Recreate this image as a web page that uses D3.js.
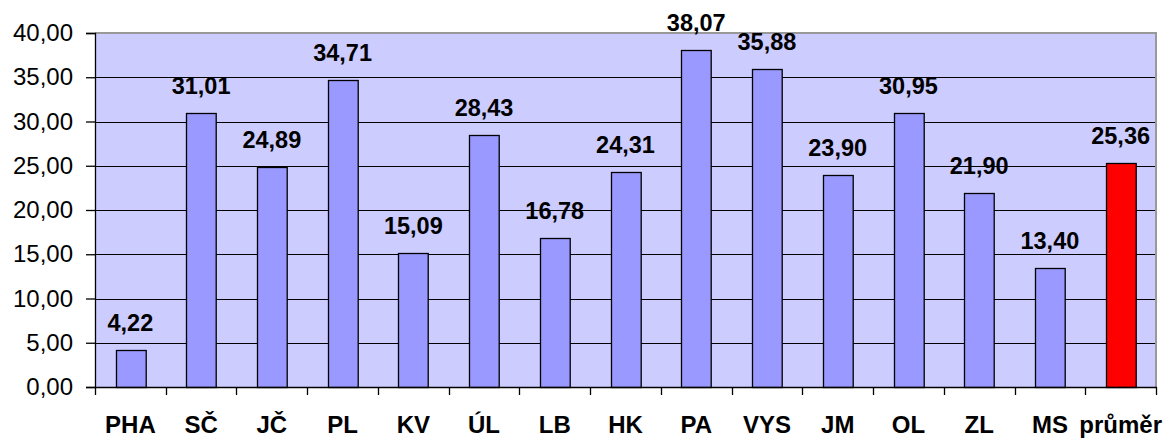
<!DOCTYPE html>
<html>
<head>
<meta charset="utf-8">
<script src="https://cdn.jsdelivr.net/npm/d3@7"></script>
<style>
  body { margin: 0; background: #fff; }
  svg { display: block; font-family: Arial, "Liberation Sans", sans-serif; }
</style>
</head>
<body>
<div id="chart"></div>
<script>
// Datos
const categories = ['PHA', 'SČ', 'JČ', 'PL', 'KV', 'ÚL', 'LB', 'HK', 'PA', 'VYS', 'JM', 'OL', 'ZL', 'MS', 'průměr'];
const values = [4.22, 31.01, 24.89, 34.71, 15.09, 28.43, 16.78, 24.31, 38.07, 35.88, 23.9, 30.95, 21.9, 13.4, 25.36];
const yTicks = [0, 5, 10, 15, 20, 25, 30, 35, 40];

const W = 1172, H = 441;
const margin = { top: 33, right: 16, bottom: 54, left: 95 };
const width = W - margin.left - margin.right;
const height = H - margin.top - margin.bottom;

const fmt = (v) => v.toFixed(2).replace('.', ',');

const svg = d3.select('#chart').append('svg')
  .attr('width', W).attr('height', H);

const g = svg.append('g')
  .attr('transform', `translate(${margin.left},${margin.top})`);

const x = d3.scaleBand().domain(categories).range([0, width]).paddingInner(0.58).paddingOuter(0.29);
const xOuter = d3.scaleBand().domain(categories).range([0, width]);
const y = d3.scaleLinear().domain([0, 40]).range([height, 0]);

// Fondo del área de la gráfica
g.append('rect')
  .attr('x', 0).attr('y', 0)
  .attr('width', width).attr('height', height)
  .attr('fill', '#CCCCFF');

// Líneas de la cuadrícula
g.append('g')
  .selectAll('line')
  .data(yTicks.filter((t) => t > 0 && t < 40))
  .join('line')
  .attr('x1', 0).attr('x2', width)
  .attr('y1', (d) => Math.round(y(d)) + 0.5)
  .attr('y2', (d) => Math.round(y(d)) + 0.5)
  .attr('stroke', '#000').attr('stroke-width', 1);

// Borde superior y derecho (gris)
g.append('path')
  .attr('d', `M0,${y(40)}H${width}V${height}`)
  .attr('fill', 'none')
  .attr('stroke', '#999')
  .attr('stroke-width', 2);

// Barras
g.append('g')
  .selectAll('rect')
  .data(values)
  .join('rect')
  .attr('x', (d, i) => Math.round(x(categories[i])) + 0.5)
  .attr('y', (d) => Math.round(y(d)) + 0.5)
  .attr('width', x.bandwidth())
  .attr('height', (d) => Math.round(y(0)) - Math.round(y(d)))
  .attr('fill', (d, i) => (i === categories.length - 1 ? '#FF0000' : '#9999FF'))
  .attr('stroke', '#000')
  .attr('stroke-width', 1.3);

// Etiquetas de valores
g.append('g')
  .selectAll('text')
  .data(values)
  .join('text')
  .attr('x', (d, i) => x(categories[i]) + x.bandwidth() / 2)
  .attr('y', (d) => y(d) - 19)
  .attr('text-anchor', 'middle')
  .attr('font-size', 23.5)
  .attr('font-weight', 'bold')
  .attr('fill', '#000')
  .text((d) => fmt(d));

// Eje Y
const yAxis = g.append('g')
  .call(d3.axisLeft(y).tickValues(yTicks).tickSize(9).tickPadding(13).tickFormat(fmt));
yAxis.select('.domain').attr('stroke', '#000').attr('stroke-width', 1.3);
yAxis.selectAll('line').attr('stroke', '#000').attr('stroke-width', 1.3);
yAxis.selectAll('text')
  .attr('font-size', 24)
  .attr('font-family', 'Arial, "Liberation Sans", sans-serif')
  .attr('fill', '#000');

// Eje X
const xAxis = g.append('g')
  .attr('transform', `translate(0,${height})`)
  .call(d3.axisBottom(xOuter).tickSize(0));
xAxis.select('.domain').attr('stroke', '#000').attr('stroke-width', 1.3);
xAxis.selectAll('text')
  .attr('y', 46)
  .attr('dy', 0)
  .attr('font-size', 24)
  .attr('font-weight', 'bold')
  .attr('font-family', 'Arial, "Liberation Sans", sans-serif')
  .attr('fill', '#000');

// Marcas entre categorías
g.append('g')
  .selectAll('line')
  .data(d3.range(categories.length + 1))
  .join('line')
  .attr('x1', (i) => Math.round(i * xOuter.step()) + 0.5)
  .attr('x2', (i) => Math.round(i * xOuter.step()) + 0.5)
  .attr('y1', height)
  .attr('y2', height + 8)
  .attr('stroke', '#000')
  .attr('stroke-width', 1.3);
</script>
</body>
</html>
